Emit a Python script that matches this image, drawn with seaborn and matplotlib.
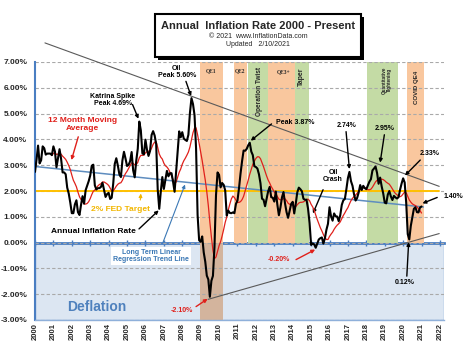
import numpy as np
import pandas as pd
import matplotlib
matplotlib.use("Agg")
import matplotlib.pyplot as plt
import seaborn as sns
from matplotlib.patches import Rectangle
from matplotlib.ticker import MultipleLocator, FuncFormatter

# ---------------- data (monthly annual inflation rate, %) ----------------
rate_2000 = [2.74, 3.22, 3.76, 3.07, 3.19, 3.73, 3.66, 3.41, 3.45, 3.45, 3.45, 3.39]
rate_2001 = [3.73, 3.53, 2.92, 3.27, 3.62, 3.25, 2.72, 2.72, 2.65, 2.13, 1.90, 1.55]
rate_2002 = [1.14, 1.14, 1.48, 1.64, 1.18, 1.07, 1.46, 1.80, 1.51, 2.03, 2.20, 2.38]
rate_2003 = [2.60, 2.98, 3.02, 2.22, 2.06, 2.11, 2.11, 2.16, 2.32, 2.04, 1.77, 1.88]
rate_2004 = [1.93, 1.69, 1.74, 2.29, 3.05, 3.27, 2.99, 2.65, 2.54, 3.19, 3.52, 3.26]
rate_2005 = [2.97, 3.01, 3.15, 3.51, 2.80, 2.53, 3.17, 3.64, 4.69, 4.35, 3.46, 3.42]
rate_2006 = [3.99, 3.60, 3.36, 3.55, 4.17, 4.32, 4.15, 3.82, 2.06, 1.31, 1.97, 2.54]
rate_2007 = [2.08, 2.42, 2.78, 2.57, 2.69, 2.69, 2.36, 1.97, 2.76, 3.54, 4.31, 4.08]
rate_2008 = [4.28, 4.03, 3.98, 3.94, 4.18, 5.02, 5.60, 5.37, 4.94, 3.66, 1.07, 0.09]
rate_2009 = [0.03, 0.24, -0.38, -0.74, -1.28, -1.43, -2.10, -1.48, -1.29, -0.18, 1.84, 2.72]
rate_2010 = [2.63, 2.14, 2.31, 2.24, 2.02, 1.05, 1.24, 1.15, 1.14, 1.17, 1.14, 1.50]
rate_2011 = [1.63, 2.11, 2.68, 3.16, 3.57, 3.56, 3.63, 3.77, 3.87, 3.53, 3.39, 2.96]
rate_2012 = [2.93, 2.87, 2.65, 2.30, 1.70, 1.66, 1.41, 1.69, 1.99, 2.16, 1.76, 1.74]
rate_2013 = [1.59, 1.98, 1.47, 1.06, 1.36, 1.75, 1.96, 1.52, 1.18, 0.96, 1.24, 1.50]
rate_2014 = [1.58, 1.13, 1.51, 1.95, 2.13, 2.07, 1.99, 1.70, 1.66, 1.66, 1.32, 0.76]
rate_2015 = [-0.09, -0.03, -0.07, -0.20, -0.04, 0.12, 0.17, 0.20, -0.04, 0.17, 0.50, 0.73]
rate_2016 = [1.37, 1.02, 0.85, 1.13, 1.02, 1.01, 0.83, 1.06, 1.46, 1.64, 1.69, 2.07]
rate_2017 = [2.50, 2.74, 2.38, 2.20, 1.87, 1.63, 1.73, 1.94, 2.23, 2.04, 2.20, 2.11]
rate_2018 = [2.07, 2.21, 2.36, 2.46, 2.80, 2.87, 2.95, 2.70, 2.28, 2.52, 2.18, 1.91]
rate_2019 = [1.55, 1.52, 1.86, 2.00, 1.79, 1.65, 1.81, 1.75, 1.71, 1.76, 2.05, 2.29]
rate_2020 = [2.49, 2.33, 1.54, 0.33, 0.12, 0.65, 0.99, 1.31, 1.37, 1.18, 1.17, 1.36]
rate_2021 = [1.40]

fed_target = 2.0

# policy periods (decimal years)
band_labels = ["QE1", "QE2", "Operation Twist", "QE3+", "Taper",
               "Quantitative\nTightening", "COVID QE4"]
band_start = [2008.95, 2010.82, 2011.56, 2012.66, 2014.13, 2018.04, 2020.22]
band_end = [2010.22, 2011.52, 2012.66, 2014.13, 2014.86, 2019.73, 2021.14]
band_kind = ["qe", "qe", "tw", "qe", "tw", "tw", "qe"]

# lines
trend_x = [2000.0, 2021.1]
trend_y = [2.95, 1.38]
upper_x = [2000.54, 2021.96]
upper_y = [7.74, 2.18]
lower_x = [2009.4, 2021.96]
lower_y = [-2.2, 0.35]

tick_years = list(range(2000, 2023))

# ---------------- build table ----------------
values = (rate_2000 + rate_2001 + rate_2002 + rate_2003 + rate_2004 + rate_2005 +
          rate_2006 + rate_2007 + rate_2008 + rate_2009 + rate_2010 + rate_2011 +
          rate_2012 + rate_2013 + rate_2014 + rate_2015 + rate_2016 + rate_2017 +
          rate_2018 + rate_2019 + rate_2020 + rate_2021)
dates = pd.date_range("2000-01-01", periods=len(values), freq="MS")
df = pd.DataFrame({"t": dates.year + (dates.month - 1) / 12.0, "rate": values})
df["ma"] = df["rate"].rolling(12).mean()

# ---------------- style ----------------
sns.set_style("white")
plt.rcParams["font.family"] = ["Liberation Sans", "DejaVu Sans"]
plt.rcParams["font.weight"] = "bold"

W, H = 474, 344
fig = plt.figure(figsize=(W / 100, H / 100), dpi=100)
ax = fig.add_axes([35 / W, 24 / H, 409 / W, 258 / H])
ax.set_xlim(2000, 2022.22)
ax.set_ylim(-3, 7)

QE_C = "#F9C79E"
TW_C = "#C4DBA5"
QE1_LOW = "#D3B49D"
DEF_C = "#DCE6F2"
BLUE = "#4A7EC2"

# deflation zone
ax.add_patch(Rectangle((2000, -3), 22.22, 3, facecolor=DEF_C, edgecolor="#8FB0DA",
                       lw=1.0, zorder=0))

# policy bands
for lab, s, e, k in zip(band_labels, band_start, band_end, band_kind):
    ax.axvspan(s, e, ymin=0.3, ymax=1.0, color=QE_C if k == "qe" else TW_C,
               lw=0, zorder=0.5)
ax.axvspan(band_start[0], band_end[0], ymin=0.0, ymax=0.3, color=QE1_LOW, lw=0, zorder=0.5)

# grid
ax.yaxis.grid(True, linestyle=(0, (3, 2)), color="#A9A9A9", lw=0.8, zorder=0.6)
ax.xaxis.grid(False)
ax.set_axisbelow(True)

# reference lines
ax.plot(trend_x, trend_y, color="#5E8DBF", lw=1.1, zorder=3)
ax.axhline(fed_target, xmin=0, xmax=(2021.96 - 2000) / 22.22, color="#FFC000", lw=1.4, zorder=2.5)
ax.plot(upper_x, upper_y, color="#5A5A5A", lw=0.8, zorder=3, clip_on=False)
ax.plot(lower_x, lower_y, color="#5A5A5A", lw=0.8, zorder=3, clip_on=False)

# series
sns.lineplot(data=df, x="t", y="ma", ax=ax, color="#E0201B", lw=0.9, zorder=4)
sns.lineplot(data=df, x="t", y="rate", ax=ax, color="black", lw=1.5, zorder=5)
ax.set_xlabel("")
ax.set_ylabel("")

# axes styling
for s in ["top", "right"]:
    ax.spines[s].set_visible(False)
ax.spines["left"].set_color(BLUE)
ax.spines["left"].set_linewidth(1.5)
ax.spines["bottom"].set_color("#8FB0DA")
ax.spines["bottom"].set_linewidth(1.0)
ax.yaxis.set_major_locator(MultipleLocator(1))
ax.yaxis.set_minor_locator(MultipleLocator(0.25))
ax.yaxis.set_major_formatter(FuncFormatter(lambda v, p: f"{v:.2f}%"))
ax.tick_params(axis="y", which="major", direction="inout", length=5, color=BLUE,
               width=1.2, labelsize=6, pad=3)
ax.tick_params(axis="y", which="minor", direction="inout", length=3, color=BLUE, width=0.8)
ax.set_xticks(tick_years)
ax.set_xticklabels([str(y) for y in tick_years], rotation=90, fontsize=5.5, fontweight="bold")
ax.tick_params(axis="x", which="major", length=0, pad=2)
for lbl in ax.get_yticklabels():
    lbl.set_fontweight("bold")

# zero axis with year ticks
sec = ax.secondary_xaxis(0.3)
sec.set_xticks(tick_years)
sec.tick_params(axis="x", direction="inout", length=4, color=BLUE, width=1.0, labelbottom=False)
sec.spines["bottom"].set_color(BLUE)
sec.spines["bottom"].set_linewidth(2.0)

# band labels
ax.text(2009.55, 6.65, "QE1", fontsize=4, family="Liberation Serif", ha="center", va="center")
ax.text(2011.15, 6.65, "QE2", fontsize=4, family="Liberation Serif", ha="center", va="center")
ax.text(2013.5, 6.62, "QE3+", fontsize=4, family="Liberation Serif", ha="center", va="center")
ax.text(2012.17, 5.85, "Operation Twist", fontsize=4.7, rotation=90, ha="center", va="center")
ax.text(2014.45, 6.42, "Taper", fontsize=5, rotation=90, ha="center", va="center")
ax.text(2019.1, 6.3, "Quantitative\nTightening", fontsize=3.3, rotation=90, ha="center",
        va="center", linespacing=1.0)
ax.text(2020.72, 6.0, "COVID QE4", fontsize=4.4, rotation=90, ha="center", va="center")

def arrow(xy, xytext, color="black", lw=1.0):
    ax.annotate("", xy=xy, xytext=xytext, annotation_clip=False,
                arrowprops=dict(arrowstyle="-|>", color=color, lw=lw, mutation_scale=5,
                                shrinkA=0, shrinkB=0))

def label(x, y, s, color="black", size=5, **kw):
    ax.text(x, y, s, color=color, fontsize=size, ha="center", va="center",
            linespacing=1.05, clip_on=False, **kw)

label(2007.71, 6.61, "Oil\nPeak 5.60%")
arrow((2008.48, 5.68), (2008.2, 6.25))

label(2004.24, 5.52, "Katrina Spike\nPeak 4.69%")
arrow((2005.62, 4.8), (2005.3, 5.35))

label(2002.6, 4.58, "12 Month Moving\nAverage", color="#E0201B", size=6)
arrow((2001.98, 3.2), (2002.35, 4.1), color="#E0201B")

label(2004.62, 1.28, "2% FED Target", color="#F2B600", size=6)
arrow((2005.75, 1.9), (2005.72, 1.65), color="#F2B600", lw=0.8)

label(2003.18, 0.43, "Annual Inflation Rate", size=6)
arrow((2006.72, 1.25), (2005.65, 0.53))

ax.text(2006.3, -0.51, "Long Term Linear\nRegression Trend Line", color="#3B78B5", fontsize=5,
        ha="center", va="center", linespacing=1.05,
        bbox=dict(boxstyle="square,pad=0.25", facecolor="white", edgecolor="none"), zorder=6)
arrow((2008.15, 2.25), (2006.95, 0.0), color="#3B78B5", lw=0.8)

label(2003.34, -2.49, "Deflation", color="#4F81BD", size=10)

label(2007.96, -2.64, "-2.10%", color="#E0201B")
arrow((2009.38, -2.18), (2008.75, -2.48), color="#E0201B")

label(2014.12, 4.66, "Peak 3.87%")
arrow((2011.72, 3.95), (2012.85, 4.6))

label(2016.95, 4.55, "2.74%")
arrow((2017.08, 2.85), (2016.9, 4.3))

label(2018.98, 4.43, "2.95%")
arrow((2018.75, 3.1), (2018.98, 4.18))

label(2021.43, 3.46, "2.33%")
arrow((2020.1, 2.6), (2020.93, 3.2))

label(2022.73, 1.79, "1.40%")
arrow((2021.05, 1.52), (2021.85, 1.75))

label(2016.19, 2.57, "Oil\nCrash")
arrow((2015.1, 1.13), (2015.65, 2.05))

label(2013.25, -0.66, "-0.20%", color="#E0201B")
arrow((2015.22, -0.27), (2014.18, -0.66), color="#E0201B")

label(2020.1, -1.55, "0.12%")
arrow((2020.3, 0.02), (2020.2, -1.3))

# title box
bx, by, bw, bh = 155 / W, 1 - 57 / H, 206 / W, 43 / H
fig.add_artist(Rectangle((bx + 3 / W, by - 3 / H), bw, bh, transform=fig.transFigure,
                         facecolor="black", edgecolor="black", lw=0))
fig.add_artist(Rectangle((bx, by), bw, bh, transform=fig.transFigure,
                         facecolor="white", edgecolor="black", lw=1.5))
cx = bx + bw / 2
fig.text(cx, 1 - 26 / H, "Annual  Inflation Rate 2000 - Present", ha="center", va="center",
         fontsize=8, fontweight="bold")
fig.text(cx, 1 - 37 / H, "\u00a9 2021  www.InflationData.com", ha="center", va="center",
         fontsize=5, fontweight="normal")
fig.text(cx, 1 - 45 / H, "Updated   2/10/2021", ha="center", va="center",
         fontsize=5, fontweight="normal")

fig.savefig("out.png", dpi=100)
